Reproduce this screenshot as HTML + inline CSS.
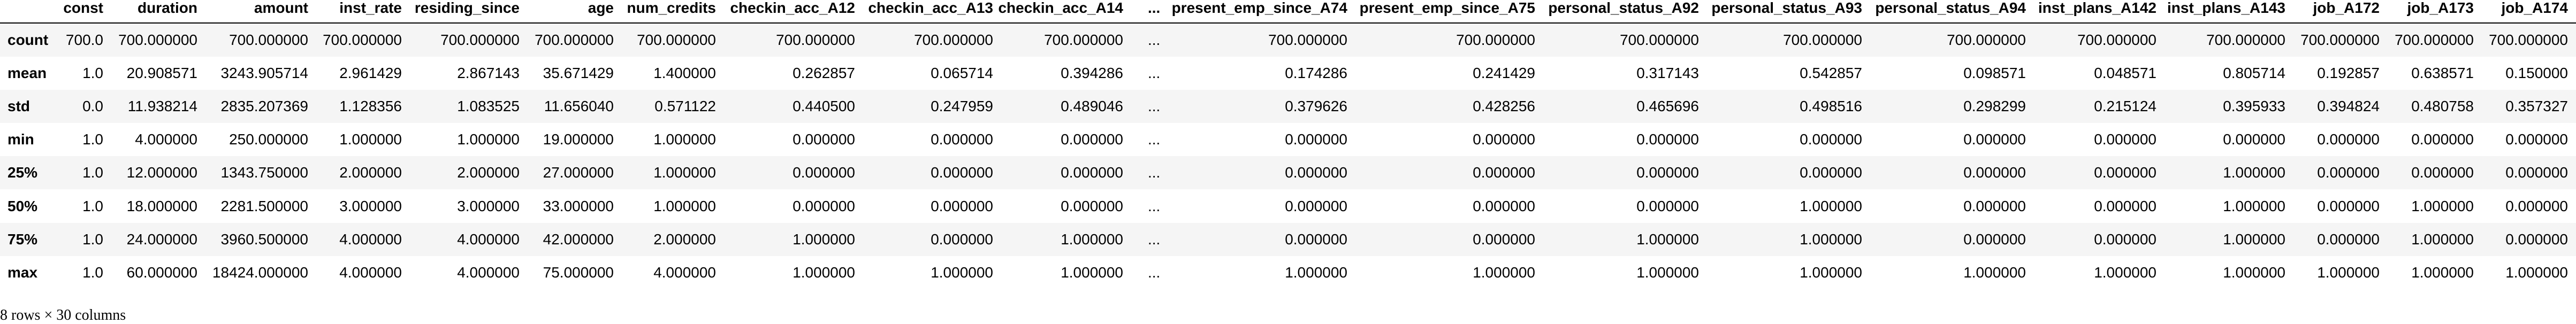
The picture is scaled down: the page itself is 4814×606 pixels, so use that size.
<!DOCTYPE html>
<html><head><meta charset="utf-8">
<style>
html,body{margin:0;padding:0;background:#fff;}
body{width:4814px;height:604px;position:relative;overflow:hidden;font-family:"Liberation Sans",Arial,sans-serif;font-size:28px;color:#000;}
.band{position:absolute;left:0;width:4814px;height:62px;}
.cell{position:absolute;height:62px;line-height:62px;white-space:nowrap;}
.hdr{position:absolute;top:0;height:30px;line-height:30px;font-weight:bold;white-space:nowrap;}
.idx{position:absolute;left:14px;font-weight:bold;height:62px;line-height:62px;}
#rule{position:absolute;left:0;top:42px;width:4814px;height:2px;background:#000;}
#footer{position:absolute;left:0;top:574px;font-family:"Liberation Serif",serif;font-size:28px;line-height:32px;white-space:nowrap;}
</style></head>
<body>
<div id="table"></div>
<div id="rule"></div>
<div id="footer">8 rows × 30 columns</div>
<script>
const columns = ["const","duration","amount","inst_rate","residing_since","age","num_credits","checkin_acc_A12","checkin_acc_A13","checkin_acc_A14","...","present_emp_since_A74","present_emp_since_A75","personal_status_A92","personal_status_A93","personal_status_A94","inst_plans_A142","inst_plans_A143","job_A172","job_A173","job_A174"];
const rowLabels = ["count","mean","std","min","25%","50%","75%","max"];
const countRow = ["700.0","700.000000","700.000000","700.000000","700.000000","700.000000","700.000000","700.000000","700.000000","700.000000","...","700.000000","700.000000","700.000000","700.000000","700.000000","700.000000","700.000000","700.000000","700.000000","700.000000"];
const meanRow = ["1.0","20.908571","3243.905714","2.961429","2.867143","35.671429","1.400000","0.262857","0.065714","0.394286","...","0.174286","0.241429","0.317143","0.542857","0.098571","0.048571","0.805714","0.192857","0.638571","0.150000"];
const stdRow = ["0.0","11.938214","2835.207369","1.128356","1.083525","11.656040","0.571122","0.440500","0.247959","0.489046","...","0.379626","0.428256","0.465696","0.498516","0.298299","0.215124","0.395933","0.394824","0.480758","0.357327"];
const minRow = ["1.0","4.000000","250.000000","1.000000","1.000000","19.000000","1.000000","0.000000","0.000000","0.000000","...","0.000000","0.000000","0.000000","0.000000","0.000000","0.000000","0.000000","0.000000","0.000000","0.000000"];
const q25Row = ["1.0","12.000000","1343.750000","2.000000","2.000000","27.000000","1.000000","0.000000","0.000000","0.000000","...","0.000000","0.000000","0.000000","0.000000","0.000000","0.000000","1.000000","0.000000","0.000000","0.000000"];
const q50Row = ["1.0","18.000000","2281.500000","3.000000","3.000000","33.000000","1.000000","0.000000","0.000000","0.000000","...","0.000000","0.000000","0.000000","1.000000","0.000000","0.000000","1.000000","0.000000","1.000000","0.000000"];
const q75Row = ["1.0","24.000000","3960.500000","4.000000","4.000000","42.000000","2.000000","1.000000","0.000000","1.000000","...","0.000000","0.000000","1.000000","1.000000","0.000000","0.000000","1.000000","0.000000","1.000000","0.000000"];
const maxRow = ["1.0","60.000000","18424.000000","4.000000","4.000000","75.000000","4.000000","1.000000","1.000000","1.000000","...","1.000000","1.000000","1.000000","1.000000","1.000000","1.000000","1.000000","1.000000","1.000000","1.000000"];
const rows = [countRow,meanRow,stdRow,minRow,q25Row,q50Row,q75Row,maxRow];

// layout: right edge of each column (pixels)
const rightEdges = [193,369,576,751,971,1147,1338,1598,1856,2099,2163,2518,2869,3175,3480,3786,4030,4271,4447,4623,4799];
const top0 = 44, rowH = 62.1;
const root = document.getElementById('table');

columns.forEach((c,j)=>{
  const h = document.createElement('div');
  h.className='hdr';
  h.textContent=c;
  h.style.right=(4814-rightEdges[j])+'px';
  if(c==='...'){h.style.right='';h.style.left='2145px';}
  
  
  root.appendChild(h);
});

rows.forEach((vals,i)=>{
  const y = top0 + i*rowH;
  if(i%2===0){
    const b=document.createElement('div');
    b.className='band';
    b.style.top=y+'px';
    b.style.background='#f5f5f5';
    
    
    root.appendChild(b);
  }
  const l=document.createElement('div');
  l.className='idx';
  l.style.top=y+'px';
  l.textContent=rowLabels[i];
  
  
  root.appendChild(l);
  vals.forEach((v,j)=>{
    const d=document.createElement('div');
    d.className='cell';
    d.style.top=y+'px';
    d.textContent=v;
    if(v==='...'){d.style.left='2145px';}
    else d.style.right=(4814-rightEdges[j])+'px';
    
    
    root.appendChild(d);
  });
});
</script>
</body></html>
